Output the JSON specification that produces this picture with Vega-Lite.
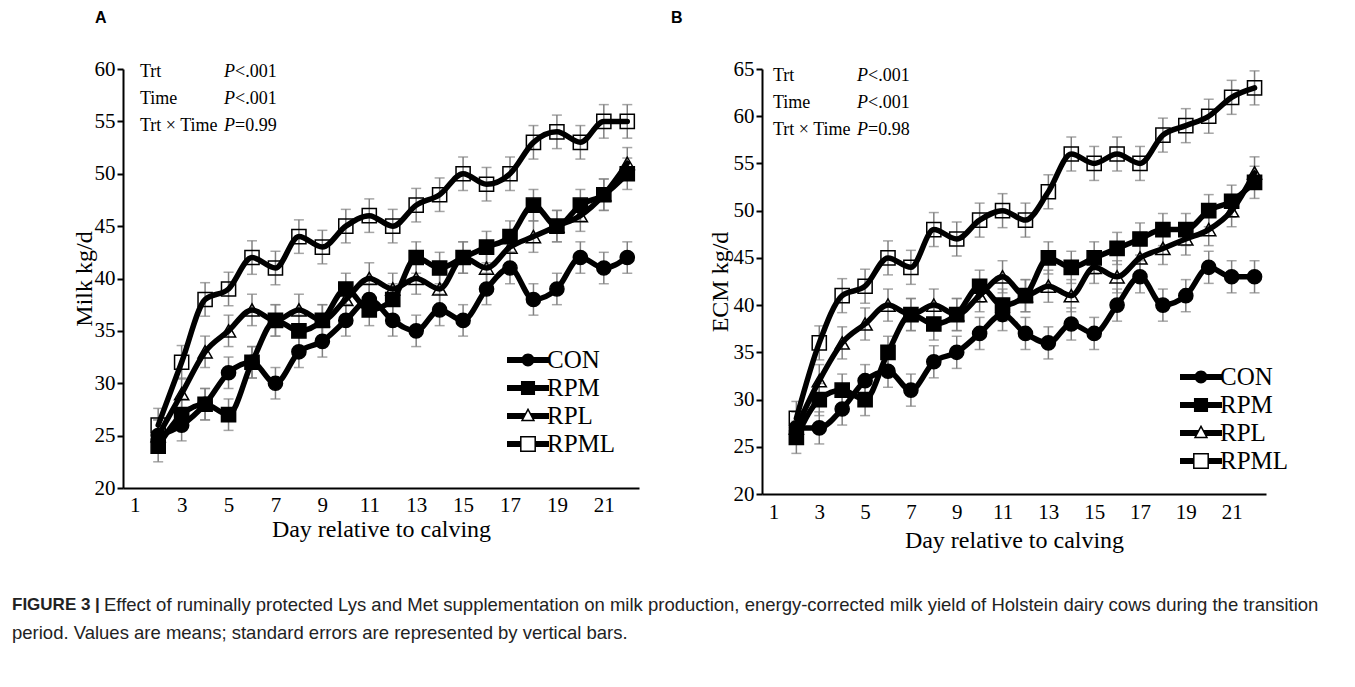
{
  "$schema": "https://vega.github.io/schema/vega-lite/v6.json",
  "background": "white",
  "padding": {"left": 12, "top": 10, "right": 5, "bottom": 5},
  "config": {
    "view": {"stroke": null},
    "font": "Liberation Serif",
    "axis": {
      "domainColor": "black", "domainWidth": 2, "tickColor": "black", "tickWidth": 2,
      "labelColor": "black", "titleColor": "black", "labelFont": "Liberation Serif",
      "titleFont": "Liberation Serif", "labelFontSize": 21, "titleFontSize": 24,
      "titleFontWeight": "normal", "grid": false
    },
    "legend": {
      "title": null, "orient": "none", "symbolSize": 900, "symbolOffset": 0, "labelOffset": 4,
      "labelFont": "Liberation Serif", "labelFontSize": 25, "labelColor": "black", "padding": 0
    }
  },
  "datasets": {
    "milk": [
      {"day":2,"trt":"CON","v":25,"se":1.5},{"day":3,"trt":"CON","v":26,"se":1.5},{"day":4,"trt":"CON","v":28,"se":1.5},{"day":5,"trt":"CON","v":31,"se":1.5},{"day":6,"trt":"CON","v":32,"se":1.5},{"day":7,"trt":"CON","v":30,"se":1.5},{"day":8,"trt":"CON","v":33,"se":1.5},{"day":9,"trt":"CON","v":34,"se":1.5},{"day":10,"trt":"CON","v":36,"se":1.5},{"day":11,"trt":"CON","v":38,"se":1.5},{"day":12,"trt":"CON","v":36,"se":1.5},{"day":13,"trt":"CON","v":35,"se":1.5},{"day":14,"trt":"CON","v":37,"se":1.5},{"day":15,"trt":"CON","v":36,"se":1.5},{"day":16,"trt":"CON","v":39,"se":1.5},{"day":17,"trt":"CON","v":41,"se":1.5},{"day":18,"trt":"CON","v":38,"se":1.5},{"day":19,"trt":"CON","v":39,"se":1.5},{"day":20,"trt":"CON","v":42,"se":1.5},{"day":21,"trt":"CON","v":41,"se":1.5},{"day":22,"trt":"CON","v":42,"se":1.5},
      {"day":2,"trt":"RPM","v":24,"se":1.5},{"day":3,"trt":"RPM","v":27,"se":1.5},{"day":4,"trt":"RPM","v":28,"se":1.5},{"day":5,"trt":"RPM","v":27,"se":1.5},{"day":6,"trt":"RPM","v":32,"se":1.5},{"day":7,"trt":"RPM","v":36,"se":1.5},{"day":8,"trt":"RPM","v":35,"se":1.5},{"day":9,"trt":"RPM","v":36,"se":1.5},{"day":10,"trt":"RPM","v":39,"se":1.5},{"day":11,"trt":"RPM","v":37,"se":1.5},{"day":12,"trt":"RPM","v":38,"se":1.5},{"day":13,"trt":"RPM","v":42,"se":1.5},{"day":14,"trt":"RPM","v":41,"se":1.5},{"day":15,"trt":"RPM","v":42,"se":1.5},{"day":16,"trt":"RPM","v":43,"se":1.5},{"day":17,"trt":"RPM","v":44,"se":1.5},{"day":18,"trt":"RPM","v":47,"se":1.5},{"day":19,"trt":"RPM","v":45,"se":1.5},{"day":20,"trt":"RPM","v":47,"se":1.5},{"day":21,"trt":"RPM","v":48,"se":1.5},{"day":22,"trt":"RPM","v":50,"se":1.5},
      {"day":2,"trt":"RPL","v":25,"se":1.5},{"day":3,"trt":"RPL","v":29,"se":1.5},{"day":4,"trt":"RPL","v":33,"se":1.5},{"day":5,"trt":"RPL","v":35,"se":1.5},{"day":6,"trt":"RPL","v":37,"se":1.5},{"day":7,"trt":"RPL","v":36,"se":1.5},{"day":8,"trt":"RPL","v":37,"se":1.5},{"day":9,"trt":"RPL","v":36,"se":1.5},{"day":10,"trt":"RPL","v":38,"se":1.5},{"day":11,"trt":"RPL","v":40,"se":1.5},{"day":12,"trt":"RPL","v":39,"se":1.5},{"day":13,"trt":"RPL","v":40,"se":1.5},{"day":14,"trt":"RPL","v":39,"se":1.5},{"day":15,"trt":"RPL","v":42,"se":1.5},{"day":16,"trt":"RPL","v":41,"se":1.5},{"day":17,"trt":"RPL","v":43,"se":1.5},{"day":18,"trt":"RPL","v":44,"se":1.5},{"day":19,"trt":"RPL","v":45,"se":1.5},{"day":20,"trt":"RPL","v":46,"se":1.5},{"day":21,"trt":"RPL","v":48,"se":1.5},{"day":22,"trt":"RPL","v":51,"se":1.5},
      {"day":2,"trt":"RPML","v":26,"se":1.6},{"day":3,"trt":"RPML","v":32,"se":1.6},{"day":4,"trt":"RPML","v":38,"se":1.6},{"day":5,"trt":"RPML","v":39,"se":1.6},{"day":6,"trt":"RPML","v":42,"se":1.6},{"day":7,"trt":"RPML","v":41,"se":1.6},{"day":8,"trt":"RPML","v":44,"se":1.6},{"day":9,"trt":"RPML","v":43,"se":1.6},{"day":10,"trt":"RPML","v":45,"se":1.6},{"day":11,"trt":"RPML","v":46,"se":1.6},{"day":12,"trt":"RPML","v":45,"se":1.6},{"day":13,"trt":"RPML","v":47,"se":1.6},{"day":14,"trt":"RPML","v":48,"se":1.6},{"day":15,"trt":"RPML","v":50,"se":1.6},{"day":16,"trt":"RPML","v":49,"se":1.6},{"day":17,"trt":"RPML","v":50,"se":1.6},{"day":18,"trt":"RPML","v":53,"se":1.6},{"day":19,"trt":"RPML","v":54,"se":1.6},{"day":20,"trt":"RPML","v":53,"se":1.6},{"day":21,"trt":"RPML","v":55,"se":1.6},{"day":22,"trt":"RPML","v":55,"se":1.6}
    ],
    "ecm": [
      {"day":2,"trt":"CON","v":27,"se":1.7},{"day":3,"trt":"CON","v":27,"se":1.7},{"day":4,"trt":"CON","v":29,"se":1.7},{"day":5,"trt":"CON","v":32,"se":1.7},{"day":6,"trt":"CON","v":33,"se":1.7},{"day":7,"trt":"CON","v":31,"se":1.7},{"day":8,"trt":"CON","v":34,"se":1.7},{"day":9,"trt":"CON","v":35,"se":1.7},{"day":10,"trt":"CON","v":37,"se":1.7},{"day":11,"trt":"CON","v":39,"se":1.7},{"day":12,"trt":"CON","v":37,"se":1.7},{"day":13,"trt":"CON","v":36,"se":1.7},{"day":14,"trt":"CON","v":38,"se":1.7},{"day":15,"trt":"CON","v":37,"se":1.7},{"day":16,"trt":"CON","v":40,"se":1.7},{"day":17,"trt":"CON","v":43,"se":1.7},{"day":18,"trt":"CON","v":40,"se":1.7},{"day":19,"trt":"CON","v":41,"se":1.7},{"day":20,"trt":"CON","v":44,"se":1.7},{"day":21,"trt":"CON","v":43,"se":1.7},{"day":22,"trt":"CON","v":43,"se":1.7},
      {"day":2,"trt":"RPM","v":26,"se":1.7},{"day":3,"trt":"RPM","v":30,"se":1.7},{"day":4,"trt":"RPM","v":31,"se":1.7},{"day":5,"trt":"RPM","v":30,"se":1.7},{"day":6,"trt":"RPM","v":35,"se":1.7},{"day":7,"trt":"RPM","v":39,"se":1.7},{"day":8,"trt":"RPM","v":38,"se":1.7},{"day":9,"trt":"RPM","v":39,"se":1.7},{"day":10,"trt":"RPM","v":42,"se":1.7},{"day":11,"trt":"RPM","v":40,"se":1.7},{"day":12,"trt":"RPM","v":41,"se":1.7},{"day":13,"trt":"RPM","v":45,"se":1.7},{"day":14,"trt":"RPM","v":44,"se":1.7},{"day":15,"trt":"RPM","v":45,"se":1.7},{"day":16,"trt":"RPM","v":46,"se":1.7},{"day":17,"trt":"RPM","v":47,"se":1.7},{"day":18,"trt":"RPM","v":48,"se":1.7},{"day":19,"trt":"RPM","v":48,"se":1.7},{"day":20,"trt":"RPM","v":50,"se":1.7},{"day":21,"trt":"RPM","v":51,"se":1.7},{"day":22,"trt":"RPM","v":53,"se":1.7},
      {"day":2,"trt":"RPL","v":27,"se":1.7},{"day":3,"trt":"RPL","v":32,"se":1.7},{"day":4,"trt":"RPL","v":36,"se":1.7},{"day":5,"trt":"RPL","v":38,"se":1.7},{"day":6,"trt":"RPL","v":40,"se":1.7},{"day":7,"trt":"RPL","v":39,"se":1.7},{"day":8,"trt":"RPL","v":40,"se":1.7},{"day":9,"trt":"RPL","v":39,"se":1.7},{"day":10,"trt":"RPL","v":41,"se":1.7},{"day":11,"trt":"RPL","v":43,"se":1.7},{"day":12,"trt":"RPL","v":41,"se":1.7},{"day":13,"trt":"RPL","v":42,"se":1.7},{"day":14,"trt":"RPL","v":41,"se":1.7},{"day":15,"trt":"RPL","v":44,"se":1.7},{"day":16,"trt":"RPL","v":43,"se":1.7},{"day":17,"trt":"RPL","v":45,"se":1.7},{"day":18,"trt":"RPL","v":46,"se":1.7},{"day":19,"trt":"RPL","v":47,"se":1.7},{"day":20,"trt":"RPL","v":48,"se":1.7},{"day":21,"trt":"RPL","v":50,"se":1.7},{"day":22,"trt":"RPL","v":54,"se":1.7},
      {"day":2,"trt":"RPML","v":28,"se":1.8},{"day":3,"trt":"RPML","v":36,"se":1.8},{"day":4,"trt":"RPML","v":41,"se":1.8},{"day":5,"trt":"RPML","v":42,"se":1.8},{"day":6,"trt":"RPML","v":45,"se":1.8},{"day":7,"trt":"RPML","v":44,"se":1.8},{"day":8,"trt":"RPML","v":48,"se":1.8},{"day":9,"trt":"RPML","v":47,"se":1.8},{"day":10,"trt":"RPML","v":49,"se":1.8},{"day":11,"trt":"RPML","v":50,"se":1.8},{"day":12,"trt":"RPML","v":49,"se":1.8},{"day":13,"trt":"RPML","v":52,"se":1.8},{"day":14,"trt":"RPML","v":56,"se":1.8},{"day":15,"trt":"RPML","v":55,"se":1.8},{"day":16,"trt":"RPML","v":56,"se":1.8},{"day":17,"trt":"RPML","v":55,"se":1.8},{"day":18,"trt":"RPML","v":58,"se":1.8},{"day":19,"trt":"RPML","v":59,"se":1.8},{"day":20,"trt":"RPML","v":60,"se":1.8},{"day":21,"trt":"RPML","v":62,"se":1.8},{"day":22,"trt":"RPML","v":63,"se":1.8}
    ]
  },
  "spacing": 44,
  "vconcat": [
    {
      "spacing": 32,
      "resolve": {"scale": {"shape": "independent", "fill": "independent"}, "legend": {"shape": "independent"}},
      "hconcat": [
        {
          "width": 516, "height": 419,
          "title": {"text": "A", "anchor": "start", "frame": "group", "dx": -28, "offset": 32, "font": "Liberation Sans", "fontSize": 16, "fontWeight": "bold", "color": "black"},
          "resolve": {"scale": {"shape": "independent"}, "legend": {"shape": "independent"}},
          "layer": [
            {"data": {"name": "milk"},
             "mark": {"type": "errorbar", "ticks": {"size": 10, "color": "#808080", "thickness": 1.5}, "rule": {"color": "#808080", "strokeWidth": 1.5}},
             "encoding": {
               "x": {"field": "day", "type": "quantitative", "scale": {"domain": [0.5, 22.5], "nice": false, "zero": false},
                     "axis": {"values": [1,3,5,7,9,11,13,15,17,19,21], "ticks": false, "title": "Day relative to calving", "labelPadding": 6, "titlePadding": 2, "labelFlush": false}},
               "y": {"field": "v", "type": "quantitative", "scale": {"domain": [20, 60], "nice": false, "zero": false},
                     "axis": {"values": [20,25,30,35,40,45,50,55,60], "tickSize": 6, "labelPadding": 2, "title": "Milk kg/d", "titlePadding": -2}},
               "yError": {"field": "se"}, "detail": {"field": "trt"}}},
            {"data": {"name": "milk"},
             "mark": {"type": "line", "color": "black", "strokeWidth": 5.5, "interpolate": "monotone", "strokeJoin": "round", "strokeCap": "round"},
             "encoding": {
               "x": {"field": "day", "type": "quantitative", "title": "Day relative to calving"},
               "y": {"field": "v", "type": "quantitative", "title": "Milk kg/d"},
               "detail": {"field": "trt"}}},
            {"data": {"name": "milk"},
             "mark": {"type": "point", "filled": true, "stroke": "black", "strokeWidth": 1.5, "opacity": 1, "size": 200},
             "encoding": {
               "x": {"field": "day", "type": "quantitative", "title": "Day relative to calving"},
               "y": {"field": "v", "type": "quantitative", "title": "Milk kg/d"},
               "fill": {"field": "trt", "type": "nominal", "scale": {"domain": ["RPML","RPL","RPM","CON"], "range": ["transparent","transparent","black","black"]}, "legend": null},
               "shape": {"field": "trt", "type": "nominal", "scale": {"domain": ["RPML","RPL","RPM","CON"], "range": ["square","triangle-up","square","circle"]}, "legend": null}}},
            {"data": {"name": "milk"},
             "transform": [{"filter": "datum.day == 2"}],
             "mark": {"type": "point", "filled": true, "color": "black", "opacity": 0, "size": 900},
             "encoding": {
               "x": {"field": "day", "type": "quantitative", "title": "Day relative to calving"},
               "y": {"field": "v", "type": "quantitative", "title": "Milk kg/d"},
               "shape": {"field": "trt", "type": "nominal",
                 "scale": {"domain": ["CON","RPM","RPL","RPML"], "range": [
                   "M-1.4,-0.2H1.4V0.2H-1.4Z M0.43,0A0.43,0.43 0 1,1 -0.43,0A0.43,0.43 0 1,1 0.43,0Z",
                   "M-1.4,-0.2H1.4V0.2H-1.4Z M-0.47,-0.47H0.47V0.47H-0.47Z",
                   "M-1.4,-0.2H-0.187L-0.4,0.2H-1.4Z M0.187,-0.2H1.4V0.2H0.4Z M0,-0.55L0.48,0.35L-0.48,0.35Z M0,-0.34L-0.313,0.25L0.313,0.25Z",
                   "M-1.4,-0.2H-0.53V0.2H-1.4Z M0.53,-0.2H1.4V0.2H0.53Z M-0.53,-0.53H0.53V0.53H-0.53Z M-0.43,-0.43V0.43H0.43V-0.43Z"]},
                 "legend": {"legendX": 390, "legendY": 276, "rowPadding": -3, "symbolOpacity": 1, "symbolFillColor": "black", "symbolStrokeColor": "transparent", "symbolStrokeWidth": 0, "symbolSize": 900}}}},
            {"data": {"values": [{}]},
             "mark": {"type": "text", "text": "Trt\nTime\nTrt × Time", "lineBreak": "\n", "align": "left", "baseline": "alphabetic", "font": "Liberation Serif", "fontSize": 18, "lineHeight": 27, "color": "black"},
             "encoding": {"x": {"datum": 1.225, "type": "quantitative"}, "y": {"datum": 59.24, "type": "quantitative"}}},
            {"data": {"values": [{}]},
             "mark": {"type": "text", "text": "P\nP\nP", "lineBreak": "\n", "align": "left", "baseline": "alphabetic", "font": "Liberation Serif", "fontSize": 18, "fontStyle": "italic", "lineHeight": 27, "color": "black", "dx": 84},
             "encoding": {"x": {"datum": 1.225, "type": "quantitative"}, "y": {"datum": 59.24, "type": "quantitative"}}},
            {"data": {"values": [{}]},
             "mark": {"type": "text", "text": "<.001\n<.001\n=0.99", "lineBreak": "\n", "align": "left", "baseline": "alphabetic", "font": "Liberation Serif", "fontSize": 18, "lineHeight": 27, "color": "black", "dx": 95},
             "encoding": {"x": {"datum": 1.225, "type": "quantitative"}, "y": {"datum": 59.24, "type": "quantitative"}}}
          ]
        },
        {
          "width": 504, "height": 425,
          "title": {"text": "B", "anchor": "start", "frame": "group", "dx": -91, "offset": 32, "font": "Liberation Sans", "fontSize": 16, "fontWeight": "bold", "color": "black"},
          "resolve": {"scale": {"shape": "independent"}, "legend": {"shape": "independent"}},
          "layer": [
            {"data": {"name": "ecm"},
             "mark": {"type": "errorbar", "ticks": {"size": 10, "color": "#808080", "thickness": 1.5}, "rule": {"color": "#808080", "strokeWidth": 1.5}},
             "encoding": {
               "x": {"field": "day", "type": "quantitative", "scale": {"domain": [0.5, 22.5], "nice": false, "zero": false},
                     "axis": {"values": [1,3,5,7,9,11,13,15,17,19,21], "ticks": false, "title": "Day relative to calving", "labelPadding": 7, "titlePadding": 6, "labelFlush": false}},
               "y": {"field": "v", "type": "quantitative", "scale": {"domain": [20, 65], "nice": false, "zero": false},
                     "axis": {"values": [20,25,30,35,40,45,50,55,60,65], "tickSize": 6, "labelPadding": 2, "title": "ECM kg/d", "titlePadding": 1}},
               "yError": {"field": "se"}, "detail": {"field": "trt"}}},
            {"data": {"name": "ecm"},
             "mark": {"type": "line", "color": "black", "strokeWidth": 5.5, "interpolate": "monotone", "strokeJoin": "round", "strokeCap": "round"},
             "encoding": {
               "x": {"field": "day", "type": "quantitative", "title": "Day relative to calving"},
               "y": {"field": "v", "type": "quantitative", "title": "ECM kg/d"},
               "detail": {"field": "trt"}}},
            {"data": {"name": "ecm"},
             "mark": {"type": "point", "filled": true, "stroke": "black", "strokeWidth": 1.5, "opacity": 1, "size": 200},
             "encoding": {
               "x": {"field": "day", "type": "quantitative", "title": "Day relative to calving"},
               "y": {"field": "v", "type": "quantitative", "title": "ECM kg/d"},
               "fill": {"field": "trt", "type": "nominal", "scale": {"domain": ["RPML","RPL","RPM","CON"], "range": ["transparent","transparent","black","black"]}, "legend": null},
               "shape": {"field": "trt", "type": "nominal", "scale": {"domain": ["RPML","RPL","RPM","CON"], "range": ["square","triangle-up","square","circle"]}, "legend": null}}},
            {"data": {"name": "ecm"},
             "transform": [{"filter": "datum.day == 2"}],
             "mark": {"type": "point", "filled": true, "color": "black", "opacity": 0, "size": 900},
             "encoding": {
               "x": {"field": "day", "type": "quantitative", "title": "Day relative to calving"},
               "y": {"field": "v", "type": "quantitative", "title": "ECM kg/d"},
               "shape": {"field": "trt", "type": "nominal",
                 "scale": {"domain": ["CON","RPM","RPL","RPML"], "range": [
                   "M-1.4,-0.2H1.4V0.2H-1.4Z M0.43,0A0.43,0.43 0 1,1 -0.43,0A0.43,0.43 0 1,1 0.43,0Z",
                   "M-1.4,-0.2H1.4V0.2H-1.4Z M-0.47,-0.47H0.47V0.47H-0.47Z",
                   "M-1.4,-0.2H-0.187L-0.4,0.2H-1.4Z M0.187,-0.2H1.4V0.2H0.4Z M0,-0.55L0.48,0.35L-0.48,0.35Z M0,-0.34L-0.313,0.25L0.313,0.25Z",
                   "M-1.4,-0.2H-0.53V0.2H-1.4Z M0.53,-0.2H1.4V0.2H0.53Z M-0.53,-0.53H0.53V0.53H-0.53Z M-0.43,-0.43V0.43H0.43V-0.43Z"]},
                 "legend": {"legendX": 424, "legendY": 293, "rowPadding": -3, "symbolOpacity": 1, "symbolFillColor": "black", "symbolStrokeColor": "transparent", "symbolStrokeWidth": 0, "symbolSize": 900}}}},
            {"data": {"values": [{}]},
             "mark": {"type": "text", "text": "Trt\nTime\nTrt × Time", "lineBreak": "\n", "align": "left", "baseline": "alphabetic", "font": "Liberation Serif", "fontSize": 18, "lineHeight": 27, "color": "black"},
             "encoding": {"x": {"datum": 0.98, "type": "quantitative"}, "y": {"datum": 63.73, "type": "quantitative"}}},
            {"data": {"values": [{}]},
             "mark": {"type": "text", "text": "P\nP\nP", "lineBreak": "\n", "align": "left", "baseline": "alphabetic", "font": "Liberation Serif", "fontSize": 18, "fontStyle": "italic", "lineHeight": 27, "color": "black", "dx": 84},
             "encoding": {"x": {"datum": 0.98, "type": "quantitative"}, "y": {"datum": 63.73, "type": "quantitative"}}},
            {"data": {"values": [{}]},
             "mark": {"type": "text", "text": "<.001\n<.001\n=0.98", "lineBreak": "\n", "align": "left", "baseline": "alphabetic", "font": "Liberation Serif", "fontSize": 18, "lineHeight": 27, "color": "black", "dx": 95},
             "encoding": {"x": {"datum": 0.98, "type": "quantitative"}, "y": {"datum": 63.73, "type": "quantitative"}}}
          ]
        }
      ]
    },
    {
      "width": 1200, "height": 28,
      "data": {"values": [{}]},
      "layer": [
        {"mark": {"type": "text", "text": "FIGURE 3 |", "align": "left", "baseline": "middle", "font": "Liberation Sans", "fontSize": 17, "fontWeight": "bold", "color": "#222222", "dx": -111},
         "encoding": {"x": {"datum": 0, "type": "quantitative", "scale": {"domain": [0, 1]}, "axis": null}, "y": {"datum": 1, "type": "quantitative", "scale": {"domain": [0, 1]}, "axis": null}}},
        {"mark": {"type": "text", "text": "Effect of ruminally protected Lys and Met supplementation on milk production, energy-corrected milk yield of Holstein dairy cows during the transition", "align": "left", "baseline": "middle", "font": "Liberation Sans", "fontSize": 18.5, "color": "#222222", "dx": -19},
         "encoding": {"x": {"datum": 0, "type": "quantitative"}, "y": {"datum": 1, "type": "quantitative"}}},
        {"mark": {"type": "text", "text": "period. Values are means; standard errors are represented by vertical bars.", "align": "left", "baseline": "middle", "font": "Liberation Sans", "fontSize": 18.5, "color": "#222222", "dx": -111},
         "encoding": {"x": {"datum": 0, "type": "quantitative"}, "y": {"datum": 0, "type": "quantitative"}}}
      ]
    }
  ]
}
